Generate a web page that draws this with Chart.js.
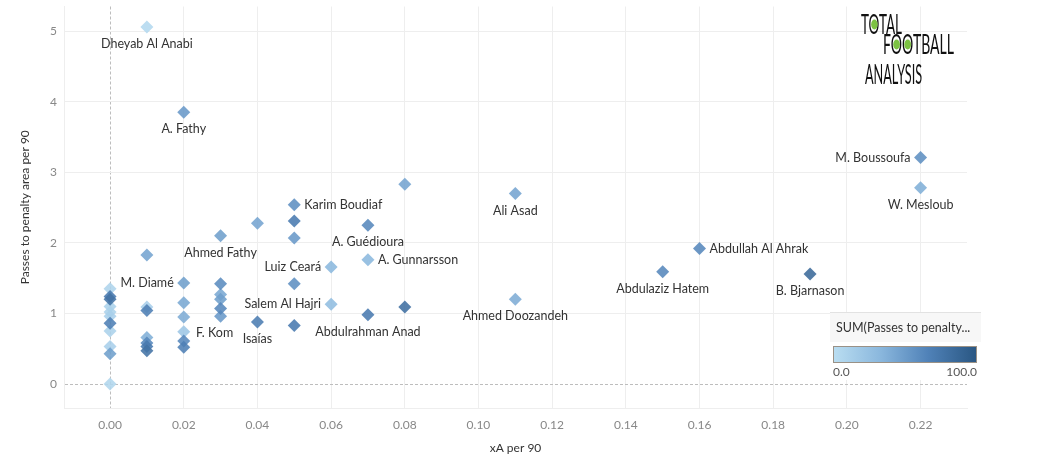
<!DOCTYPE html>
<html>
<head>
<meta charset="utf-8">
<script src="https://cdn.jsdelivr.net/npm/chart.js@4"></script>
<style>
  html, body { margin: 0; padding: 0; background: #fff; }
  #wrap { width: 1045px; height: 473px; position: relative; }
</style>
</head>
<body>
<div id="wrap"><canvas id="chart"></canvas></div>
<script>
// ----------------------
// DATA
// ----------------------
const playerNames = [
  "Dheyab Al Anabi", "A. Fathy", "M. Boussoufa", "W. Mesloub", "Ali Asad", "",
  "Karim Boudiaf", "", "", "A. Guédioura", "Ahmed Fathy", "", "Abdullah Al Ahrak",
  "", "A. Gunnarsson", "Luiz Ceará", "Abdulaziz Hatem", "B. Bjarnason", "M. Diamé",
  "", "", "Salem Al Hajri", "Ahmed Doozandeh", "", "Abdulrahman Anad", "Isaías", "",
  "", "", "", "F. Kom",
  "", "", "", "", "",
  "", "", "", "", "", "",
  "", "", "", "", "", "", "", "", "", "", ""
];
const xaPer90 = [
  0.01, 0.02, 0.22, 0.22, 0.11, 0.08,
  0.05, 0.05, 0.04, 0.07, 0.03, 0.05, 0.16,
  0.01, 0.07, 0.06, 0.15, 0.19, 0.02,
  0.03, 0.05, 0.06, 0.11, 0.08, 0.07, 0.04, 0.05,
  0.03, 0.03, 0.03, 0.03,
  0.02, 0.02, 0.02, 0.02, 0.02,
  0.01, 0.01, 0.01, 0.01, 0.01, 0.01,
  0, 0, 0, 0, 0, 0, 0, 0, 0, 0, 0
];
const passesPer90 = [
  5.06, 3.85, 3.21, 2.78, 2.70, 2.83,
  2.54, 2.31, 2.28, 2.25, 2.10, 2.07, 1.92,
  1.83, 1.76, 1.66, 1.59, 1.56, 1.43,
  1.42, 1.42, 1.13, 1.20, 1.09, 0.98, 0.88, 0.83,
  1.27, 1.20, 1.07, 0.96,
  1.15, 0.95, 0.74, 0.61, 0.52,
  1.09, 1.04, 0.66, 0.58, 0.53, 0.47,
  1.35, 1.24, 1.20, 1.10, 1.02, 0.96, 0.86, 0.75, 0.53, 0.43, 0
];
// colour measure: SUM(Passes to penalty area), 0 - 100
const passesTotal = [
  4, 52, 58, 38, 45, 45,
  58, 72, 45, 62, 48, 52, 62,
  45, 32, 32, 62, 85, 48,
  60, 58, 28, 40, 80, 72, 70, 72,
  42, 48, 62, 52,
  42, 40, 20, 62, 68,
  12, 68, 38, 62, 72, 78,
  8, 72, 78, 10, 10, 12, 68, 10, 12, 48, 6
];
const xTicks = [0, 0.02, 0.04, 0.06, 0.08, 0.10, 0.12, 0.14, 0.16, 0.18, 0.20, 0.22];
const yTicks = [0, 1, 2, 3, 4, 5];
const colorRange = [0, 100];

// ----------------------
// COLOUR SCALE
// ----------------------
const stops = [
  [0, [185, 221, 241]],
  [0.33, [138, 183, 221]],
  [0.66, [80, 130, 184]],
  [1, [42, 87, 131]],
];
function shade(v, alpha = 1) {
  const t = Math.max(0, Math.min(1, (v - colorRange[0]) / (colorRange[1] - colorRange[0])));
  let i = 0;
  while (i < stops.length - 2 && t > stops[i + 1][0]) i++;
  const [t0, c0] = stops[i];
  const [t1, c1] = stops[i + 1];
  const k = (t - t0) / (t1 - t0);
  const c = c0.map((a, j) => Math.round(a + (c1[j] - a) * k));
  return `rgba(${c[0]},${c[1]},${c[2]},${alpha})`;
}

// light marks first, dark marks on top
const order = passesTotal.map((_, i) => i).sort((a, b) => passesTotal[a] - passesTotal[b]);
const points = order.map((i) => ({ x: xaPer90[i], y: passesPer90[i], name: playerNames[i], v: passesTotal[i] }));

// where each label sits next to its mark
const labelSide = {
  "M. Boussoufa": "left", "Luiz Ceará": "left", "Salem Al Hajri": "left", "M. Diamé": "left",
  "Karim Boudiaf": "right", "Abdullah Al Ahrak": "right", "A. Gunnarsson": "right",
  "F. Kom": "belowLeft",
};

const FONT = "Lato, 'Open Sans', sans-serif";

// ----------------------
// PLUGINS
// ----------------------
const pointLabels = {
  id: "pointLabels",
  afterDatasetsDraw(chart) {
    const { ctx } = chart;
    const meta = chart.getDatasetMeta(0);
    ctx.save();
    ctx.font = `12.5px ${FONT}`;
    ctx.fillStyle = "#333";
    ctx.textBaseline = "middle";
    meta.data.forEach((el, i) => {
      const p = points[i];
      if (!p.name) return;
      const side = labelSide[p.name] || "below";
      if (side === "left") {
        ctx.textAlign = "right";
        ctx.fillText(p.name, el.x - 10, el.y);
      } else if (side === "right") {
        ctx.textAlign = "left";
        ctx.fillText(p.name, el.x + 10, el.y);
      } else if (side === "belowLeft") {
        ctx.textAlign = "center";
        ctx.fillText(p.name, el.x - 6, el.y + 17);
      } else {
        ctx.textAlign = "center";
        ctx.fillText(p.name, el.x, el.y + 17);
      }
    });
    ctx.restore();
  },
};

const colorLegend = {
  id: "colorLegend",
  afterDraw(chart) {
    const { ctx } = chart;
    ctx.save();
    // box
    ctx.fillStyle = "#fff";
    ctx.fillRect(830, 312, 151, 68);
    ctx.fillStyle = "#f7f7f7";
    ctx.fillRect(830, 312, 151, 30);
    ctx.strokeStyle = "#e2e2e2";
    ctx.beginPath();
    ctx.moveTo(830, 312.5);
    ctx.lineTo(981, 312.5);
    ctx.stroke();
    ctx.font = `12.5px ${FONT}`;
    ctx.fillStyle = "#333";
    ctx.textBaseline = "middle";
    ctx.textAlign = "left";
    ctx.fillText("SUM(Passes to penalty...", 836, 328);
    // gradient bar
    const g = ctx.createLinearGradient(834, 0, 976, 0);
    stops.forEach(([t]) => g.addColorStop(t, shade(colorRange[0] + t * (colorRange[1] - colorRange[0]))));
    ctx.fillStyle = g;
    ctx.fillRect(834, 347, 142, 15);
    ctx.strokeStyle = "#9a9186";
    ctx.strokeRect(833.5, 346.5, 143, 16);
    ctx.fillStyle = "#555";
    ctx.font = `12px ${FONT}`;
    ctx.fillText(colorRange[0].toFixed(1), 833, 372);
    ctx.textAlign = "right";
    ctx.fillText(colorRange[1].toFixed(1), 977, 372);
    ctx.restore();
  },
};

const logo = {
  id: "logo",
  afterDraw(chart) {
    const { ctx } = chart;
    ctx.save();
    ctx.textBaseline = "alphabetic";
    ctx.font = `400 27px ${FONT}`;
    // text, left, baseline, horizontal squeeze, index of letters drawn as balls
    const lines = [
      ["TOTAL", 861, 34, 0.5, [1]],
      ["FOOTBALL", 883, 54, 0.52, [1, 2]],
      ["ANALYSIS", 865, 84, 0.47, []],
    ];
    lines.forEach(([txt, x, y, sx, balls]) => {
      ctx.save();
      ctx.translate(x, y);
      ctx.scale(sx, 1);
      ctx.fillStyle = "#111";
      ctx.fillText(txt, 0, 0);
      balls.forEach((k) => {
        const pre = ctx.measureText(txt.slice(0, k)).width;
        const w = ctx.measureText(txt[k]).width;
        ctx.fillStyle = "#7cc242";
        ctx.beginPath();
        ctx.ellipse(pre + w / 2, -9.5, w * 0.3, 5, 0, 0, Math.PI * 2);
        ctx.fill();
      });
      ctx.restore();
    });
    ctx.restore();
  },
};

// ----------------------
// CHART
// ----------------------
const zeroDash = (c) => (c.tick && c.tick.value === 0 ? [3, 2] : []);
const gridColor = (c) => (c.tick && c.tick.value === 0 ? "#bdbdbd" : "#eeeeee");

new Chart(document.getElementById("chart"), {
  type: "scatter",
  data: {
    datasets: [
      {
        data: points,
        pointStyle: "rectRot",
        pointRadius: 6.5,
        pointHoverRadius: 6.5,
        borderWidth: 0,
        backgroundColor: points.map((p) => shade(p.v, 0.88)),
      },
    ],
  },
  options: {
    responsive: true,
    maintainAspectRatio: false,
    animation: false,
    events: [],
    layout: { padding: { top: 2, right: 78, left: 0, bottom: 0 } },
    plugins: { legend: { display: false }, tooltip: { enabled: false } },
    scales: {
      x: {
        type: "linear",
        min: -0.0125,
        max: 0.2326,
        afterFit: (s) => { s.height = 65; s.paddingLeft = 0; s.paddingRight = 0; },
        afterBuildTicks: (s) => { s.ticks = xTicks.map((v) => ({ value: v })); },
        ticks: {
          callback: (v) => v.toFixed(2),
          color: "#888",
          padding: 10,
          maxRotation: 0,
          font: { family: FONT, size: 12 },
        },
        grid: { color: gridColor, drawTicks: false, lineWidth: 1 },
        border: { color: "#eeeeee", dash: zeroDash },
        title: {
          display: true,
          text: "xA per 90",
          color: "#333",
          font: { family: FONT, size: 12 },
          padding: { top: 0, bottom: 18 },
        },
      },
      y: {
        type: "linear",
        min: -0.34,
        max: 5.35,
        afterFit: (s) => { s.width = 64; s.paddingTop = 0; s.paddingBottom = 0; },
        afterBuildTicks: (s) => { s.ticks = yTicks.map((v) => ({ value: v })); },
        ticks: {
          color: "#888",
          padding: 7,
          font: { family: FONT, size: 12 },
        },
        grid: { color: gridColor, drawTicks: false, lineWidth: 1 },
        border: { color: "#eeeeee", dash: zeroDash },
        title: {
          display: true,
          text: "Passes to penalty area per 90",
          color: "#333",
          font: { family: FONT, size: 12 },
          padding: { top: 18, bottom: 0 },
        },
      },
    },
  },
  plugins: [pointLabels, colorLegend, logo],
});
</script>
</body>
</html>
